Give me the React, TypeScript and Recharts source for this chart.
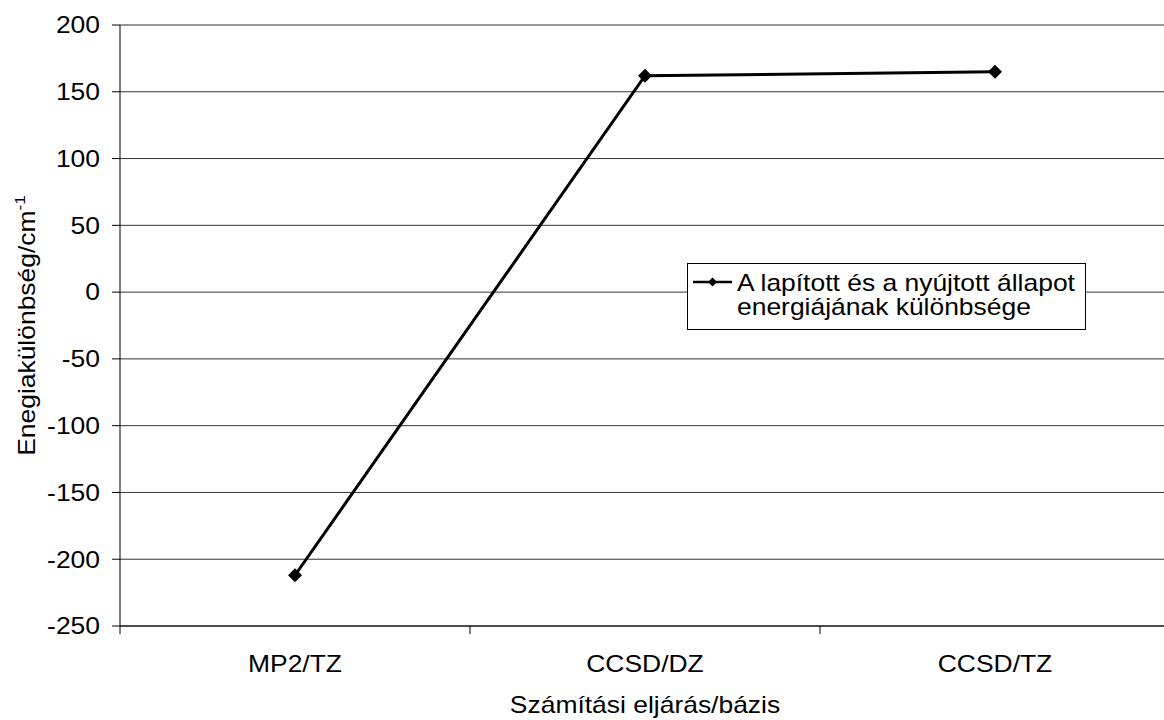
import React from 'react';
import { LineChart, Line, XAxis, YAxis, CartesianGrid, Legend } from 'recharts';

// Energy difference between the flattened and the stretched state, per method/basis
const categories = ['MP2/TZ', 'CCSD/DZ', 'CCSD/TZ'];
const energyDiff = [-212, 162, 165];
const yTicks = [-250, -200, -150, -100, -50, 0, 50, 100, 150, 200];

const seriesName = 'A lapított és a nyújtott állapot energiájának különbsége';
const legendLines = ['A lapított és a nyújtott állapot', 'energiájának különbsége'];
const xTitle = 'Számítási eljárás/bázis';
const yTitle = 'Enegiakülönbség/cm';
const yTitleSup = '-1';

// Points sit in the middle of each category band; integer positions are band boundaries.
const data = categories.map((name, i) => ({ pos: i + 0.5, name, value: energyDiff[i] }));
const xTicks = categories.flatMap((_, i) => [i, i + 0.5]).concat(categories.length);

const FONT = '"Liberation Sans", Arial, Helvetica, sans-serif';
const FONT_SIZE = 23;
const WIDE = 1.15; // wide glyph advance of the original typeface

const XTick = (props: any) => {
  const { x, y, payload } = props;
  const v = payload.value as number;
  if (Number.isInteger(v)) {
    return <line x1={x} y1={y} x2={x} y2={y + 8} stroke="#000" strokeWidth={1} />;
  }
  return (
    <text
      transform={`translate(${x},${y + 46}) scale(${WIDE},1)`}
      textAnchor="middle"
      fontSize={FONT_SIZE}
      fontFamily={FONT}
      fill="#000"
    >
      {categories[Math.floor(v)]}
    </text>
  );
};

const YTick = (props: any) => {
  const { x, y, payload } = props;
  return (
    <text
      transform={`translate(${x},${y}) scale(${WIDE},1)`}
      textAnchor="end"
      dy="0.36em"
      fontSize={FONT_SIZE}
      fontFamily={FONT}
      fill="#000"
    >
      {payload.value}
    </text>
  );
};

const YTitle = (props: any) => {
  const vb = props.viewBox;
  const cy = vb.y + vb.height / 2;
  return (
    <text
      transform={`translate(35,${cy}) rotate(-90) scale(${WIDE},1)`}
      textAnchor="middle"
      fontSize={FONT_SIZE}
      fontFamily={FONT}
      fill="#000"
    >
      {yTitle}
      <tspan fontSize={15} dy={-10}>
        {yTitleSup}
      </tspan>
    </text>
  );
};

const XTitle = (props: any) => {
  const vb = props.viewBox;
  return (
    <text
      transform={`translate(${vb.x + vb.width / 2},${vb.y + 87}) scale(${WIDE},1)`}
      textAnchor="middle"
      fontSize={FONT_SIZE}
      fontFamily={FONT}
      fill="#000"
    >
      {xTitle}
    </text>
  );
};

const Diamond = (props: any) => {
  const { cx, cy, index } = props;
  const r = 7;
  return (
    <polygon
      key={`d-${index}`}
      points={`${cx},${cy - r} ${cx + r},${cy} ${cx},${cy + r} ${cx - r},${cy}`}
      fill="#000"
    />
  );
};

const LegendBox = () => (
  <svg width={399} height={67} style={{ display: 'block' }}>
    <rect x={0.5} y={0.5} width={398} height={66} fill="#fff" stroke="#000" strokeWidth={1} />
    <line x1={6} y1={19} x2={45} y2={19} stroke="#000" strokeWidth={2.5} />
    <polygon points="25.5,14.5 30,19 25.5,23.5 21,19" fill="#000" />
    {legendLines.map((t, i) => (
      <text
        key={t}
        transform={`translate(50,${28 + i * 24}) scale(${WIDE},1)`}
        fontSize={FONT_SIZE}
        fontFamily={FONT}
        fill="#000"
      >
        {t}
      </text>
    ))}
  </svg>
);

export default function App() {
  return (
    <div
      style={{
        position: 'absolute',
        left: 0,
        top: 0,
        width: 1164,
        height: 720,
        overflow: 'hidden',
        background: '#fff',
      }}
    >
      <LineChart
        width={1175}
        height={720}
        data={data}
        margin={{ top: 25, right: 5, bottom: 0, left: 0 }}
      >
        <CartesianGrid vertical={false} stroke="#333" />
        <XAxis
          dataKey="pos"
          type="number"
          domain={[0, categories.length]}
          ticks={xTicks}
          interval={0}
          tick={XTick}
          tickLine={false}
          tickSize={0}
          tickMargin={0}
          axisLine={{ stroke: '#000' }}
          height={94}
          label={{ content: XTitle }}
        />
        <YAxis
          type="number"
          domain={[-250, 200]}
          ticks={yTicks}
          interval={0}
          tick={YTick}
          tickSize={8}
          tickMargin={12}
          tickLine={{ stroke: '#000' }}
          axisLine={{ stroke: '#000' }}
          width={120}
          label={{ content: YTitle }}
        />
        <Legend
          layout="horizontal"
          verticalAlign="middle"
          align="center"
          wrapperStyle={{ left: 687, top: 263, width: 399, height: 67 }}
          content={LegendBox}
        />
        <Line
          dataKey="value"
          name={seriesName}
          stroke="#000"
          strokeWidth={3}
          dot={Diamond}
          activeDot={false}
          isAnimationActive={false}
        />
      </LineChart>
    </div>
  );
}
